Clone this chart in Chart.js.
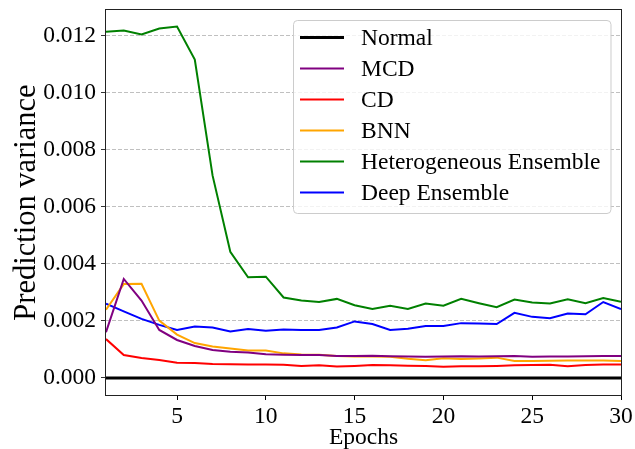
<!DOCTYPE html>
<html>
<head>
<meta charset="utf-8">
<script src="https://cdn.jsdelivr.net/npm/chart.js@4.4.0/dist/chart.umd.min.js"></script>
<style>
  html, body { margin: 0; padding: 0; background: #fff; }
</style>
</head>
<body>
<canvas id="varChart" width="635" height="449"></canvas>
<script>
const epochs = [1, 2, 3, 4, 5, 6, 7, 8, 9, 10, 11, 12, 13, 14, 15,
  16, 17, 18, 19, 20, 21, 22, 23, 24, 25, 26, 27, 28, 29, 30];

const normalVar = [0, 0, 0, 0, 0, 0, 0, 0, 0, 0, 0, 0, 0, 0, 0,
  0, 0, 0, 0, 0, 0, 0, 0, 0, 0, 0, 0, 0, 0, 0];
const mcdVar = [0.00160, 0.00347, 0.00271, 0.00168, 0.00133, 0.00112, 0.00098, 0.00092, 0.00089, 0.00083,
  0.00081, 0.00080, 0.00080, 0.00077, 0.00077, 0.00078, 0.00076, 0.00075, 0.00074, 0.00075,
  0.00076, 0.00075, 0.00076, 0.00077, 0.00074, 0.00075, 0.00075, 0.00076, 0.00077, 0.00077];
const cdVar = [0.00136, 0.00080, 0.00070, 0.00063, 0.00053, 0.00052, 0.00049, 0.00048, 0.00047, 0.00047,
  0.00046, 0.00042, 0.00044, 0.00040, 0.00042, 0.00045, 0.00044, 0.00043, 0.00042, 0.00039,
  0.00041, 0.00041, 0.00042, 0.00044, 0.00045, 0.00046, 0.00041, 0.00045, 0.00047, 0.00047];
const bnnVar = [0.00239, 0.00329, 0.00330, 0.00201, 0.00152, 0.00122, 0.00110, 0.00103, 0.00096, 0.00096,
  0.00086, 0.00082, 0.00081, 0.00077, 0.00075, 0.00075, 0.00074, 0.00067, 0.00062, 0.00069,
  0.00066, 0.00068, 0.00071, 0.00059, 0.00059, 0.00060, 0.00061, 0.00061, 0.00061, 0.00059];
const heteroVar = [0.01214, 0.01218, 0.01204, 0.01225, 0.01232, 0.01116, 0.00710, 0.00442, 0.00353, 0.00355,
  0.00282, 0.00271, 0.00266, 0.00277, 0.00255, 0.00242, 0.00253, 0.00242, 0.00261, 0.00253,
  0.00277, 0.00262, 0.00248, 0.00275, 0.00264, 0.00261, 0.00276, 0.00262, 0.00280, 0.00267];
const deepVar = [0.00260, 0.00233, 0.00207, 0.00186, 0.00168, 0.00180, 0.00177, 0.00163, 0.00171, 0.00165,
  0.00170, 0.00168, 0.00168, 0.00177, 0.00198, 0.00189, 0.00168, 0.00172, 0.00182, 0.00182,
  0.00192, 0.00191, 0.00189, 0.00228, 0.00214, 0.00209, 0.00226, 0.00223, 0.00266, 0.00241];

const xTicks = [5, 10, 15, 20, 25, 30];
const yTicks = [0, 0.002, 0.004, 0.006, 0.008, 0.010, 0.012];

const serif = "'Liberation Serif', 'Times New Roman', serif";

function series(label, data, color, width) {
  return {
    label: label,
    data: data,
    borderColor: color,
    backgroundColor: color,
    borderWidth: width,
    pointRadius: 0,
    tension: 0,
    fill: false
  };
}

// frame around the axes plus a matplotlib-style legend inside the plot
const frameAndLegend = {
  id: "frameAndLegend",
  afterDatasetsDraw(chart) {
    const { ctx, chartArea } = chart;
    ctx.save();
    ctx.strokeStyle = "#222";
    ctx.lineWidth = 1;
    ctx.strokeRect(chartArea.left - 0.5, chartArea.top - 0.5,
      chartArea.right - chartArea.left + 1, chartArea.bottom - chartArea.top + 1);

    const rowH = 31;
    ctx.font = "23.5px " + serif;
    const labels = chart.data.datasets.map(d => d.label);
    const textW = Math.max(...labels.map(l => ctx.measureText(l).width));
    const boxW = 68 + textW + 10;
    const boxH = rowH * labels.length + 7;
    const right = chartArea.right - 11;
    const left = Math.round(right - boxW);
    const top = chartArea.top + 10;

    ctx.beginPath();
    ctx.roundRect(left + 0.5, top + 0.5, boxW, boxH, 4);
    ctx.fillStyle = "rgba(255,255,255,0.8)";
    ctx.fill();
    ctx.strokeStyle = "#cccccc";
    ctx.stroke();

    chart.data.datasets.forEach((ds, i) => {
      const y = top + 17.5 + i * rowH;
      ctx.beginPath();
      ctx.moveTo(left + 7, y);
      ctx.lineTo(left + 51, y);
      ctx.strokeStyle = ds.borderColor;
      ctx.lineWidth = ds.borderWidth;
      ctx.stroke();
      ctx.fillStyle = "#000";
      ctx.textBaseline = "middle";
      ctx.textAlign = "left";
      ctx.fillText(ds.label, left + 68, y + 1);
    });
    ctx.restore();
  }
};

new Chart(document.getElementById("varChart"), {
  type: "line",
  data: {
    labels: epochs,
    datasets: [
      series("Normal", normalVar, "#000000", 3),
      series("MCD", mcdVar, "#800080", 2),
      series("CD", cdVar, "#ff0000", 2),
      series("BNN", bnnVar, "#ffa500", 2),
      series("Heterogeneous Ensemble", heteroVar, "#008000", 2),
      series("Deep Ensemble", deepVar, "#0000ff", 2)
    ]
  },
  options: {
    responsive: false,
    animation: false,
    layout: { padding: { top: 10, right: 14, left: 0, bottom: 0 } },
    plugins: {
      legend: { display: false },
      tooltip: { enabled: false }
    },
    scales: {
      x: {
        type: "linear",
        min: 1,
        max: 30,
        afterBuildTicks: scale => { scale.ticks = xTicks.map(v => ({ value: v })); },
        afterFit: scale => {
          scale.height = 54;
          scale.paddingLeft = 0;
          scale.paddingRight = 0;
        },
        grid: { drawOnChartArea: false, tickColor: "#000", tickLength: 5 },
        border: { display: false },
        ticks: { color: "#000", font: { family: serif, size: 23.5 }, padding: 3, maxRotation: 0 },
        title: {
          display: true,
          text: "Epochs",
          color: "#000",
          font: { family: serif, size: 23.5, lineHeight: 1 },
          padding: { top: 0, bottom: -1 }
        }
      },
      y: {
        min: -0.0006,
        max: 0.0129,
        afterBuildTicks: scale => { scale.ticks = yTicks.map(v => ({ value: v })); },
        afterFit: scale => {
          scale.width = 106;
          scale.paddingTop = 0;
          scale.paddingBottom = 0;
        },
        grid: { color: "#b0b0b0", lineWidth: 0.8, tickColor: "#000", tickLength: 5 },
        border: { display: false, dash: [4, 2] },
        ticks: {
          color: "#000",
          font: { family: serif, size: 23.5 },
          padding: 5,
          callback: v => v.toFixed(3)
        },
        title: {
          display: true,
          text: "Prediction variance",
          color: "#000",
          font: { family: serif, size: 30.5, lineHeight: 1 },
          padding: { top: 12, bottom: 0 }
        }
      }
    }
  },
  plugins: [frameAndLegend]
});
</script>
</body>
</html>
